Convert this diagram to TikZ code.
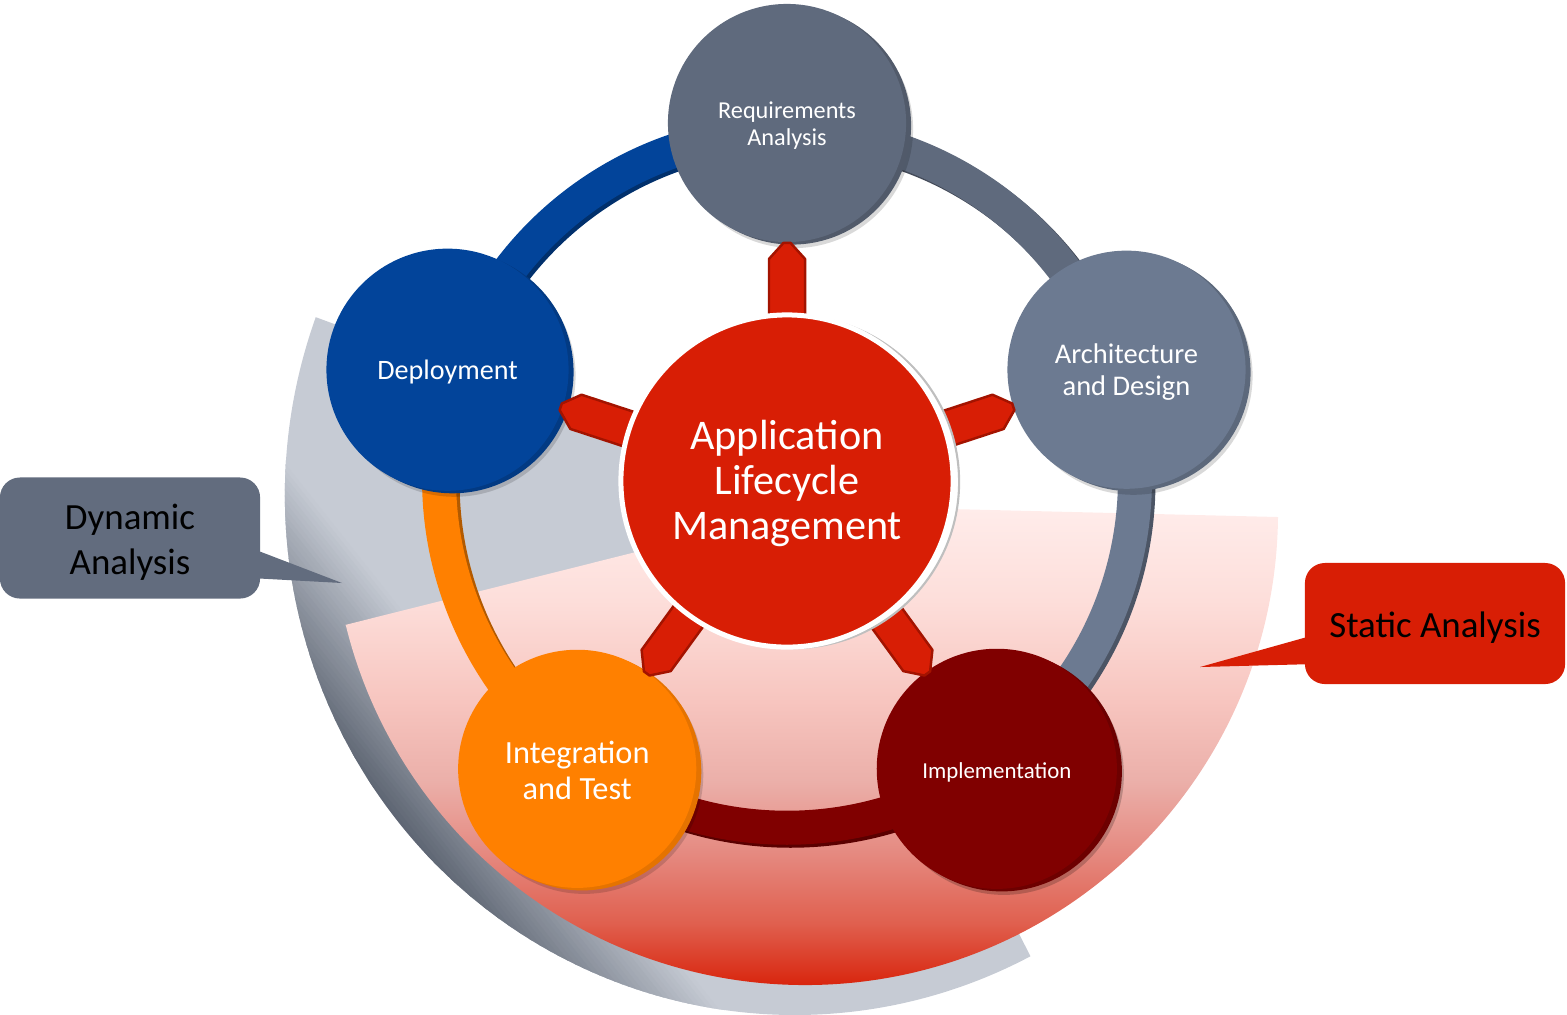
\documentclass[tikz,border=0pt]{standalone}
\usepackage{fontspec}
\setmainfont{Carlito}
\usetikzlibrary{calc,shadows}
\definecolor{almred}{HTML}{D81E05}
\definecolor{spokeedge}{HTML}{A31300}
\definecolor{reqgray}{HTML}{5F6A7D}
\definecolor{archgray}{HTML}{6C7A91}
\definecolor{implred}{HTML}{800000}
\definecolor{integor}{HTML}{FF8000}
\definecolor{deplblue}{HTML}{02449A}
\definecolor{dyngray}{HTML}{626C7E}
\definecolor{rimlight}{HTML}{C6CBD4}
\definecolor{rimdark}{HTML}{4B5361}
\definecolor{pk0}{HTML}{FFECEA}
\definecolor{pk1}{HTML}{FDDEDA}
\definecolor{pk2}{HTML}{F7C5BF}
\definecolor{pk3}{HTML}{EBAFA9}
\definecolor{pk4}{HTML}{E58A81}
\definecolor{pk5}{HTML}{E0604F}
\definecolor{pk6}{HTML}{D8230B}
\pgfdeclareverticalshading{pinkgrad}{100bp}{color(0bp)=(pk6); color(25bp)=(pk6); color(31.8bp)=(pk5); color(39.2bp)=(pk4); color(46.5bp)=(pk3); color(54.9bp)=(pk2); color(65.4bp)=(pk1); color(75bp)=(pk0); color(100bp)=(pk0)}
\pgfdeclarelayer{ground}
\pgfdeclarelayer{bands}
\pgfdeclarelayer{circles}
\pgfdeclarelayer{spokes}
\pgfsetlayers{ground,bands,circles,spokes,main}
\begin{document}
\begin{tikzpicture}[x=0.01cm,y=0.01cm,
  stagenode/.style={circle, minimum size=2.38cm, inner sep=0pt},
  stagetext/.style={text=white, align=center, inner sep=0pt},
  band/.style={line width=0.34cm},
  spoke/.style={fill=almred, draw=spokeedge, line width=0.7pt, line join=round},
  callout/.style={rounded corners=0.2cm, minimum width=2.6cm, minimum height=1.21cm, inner sep=0pt},
  callouttext/.style={align=center, text=black, inner sep=0pt, font=\fontsize{10.5}{12.8}\selectfont, yshift=-0.04cm}]
\useasboundingbox (0,0) rectangle (1567,-1014);

% ---------- background sectors ----------
\begin{pgfonlayer}{ground}
\begin{scope}
\clip (795,-495) -- ++(160:510 and 520) arc[start angle=160,end angle=297.5,x radius=510,y radius=520] -- cycle;
\fill[rimlight] (250,-250) rectangle (1100,-1050);
\foreach \s in {100,104,...,300} {
  \pgfmathtruncatemacro\pc{min(100,(\s-100)/160*100)}
  \fill[rimdark!\pc!rimlight] ({580-0.78*\s+0.62*800},{-668-0.62*\s-0.78*800}) -- ({580-0.78*\s-0.62*800},{-668-0.62*\s+0.78*800}) -- ({580-0.78*(\s+5)-0.62*800},{-668-0.62*(\s+5)+0.78*800}) -- ({580-0.78*(\s+5)+0.62*800},{-668-0.62*(\s+5)-0.78*800}) -- cycle;
}
\end{scope}
\shade[shading=pinkgrad] (345,-625) -- (640,-551) -- (950,-509) -- (1278,-517) arc[start angle=-0.6,end angle=-166.2,radius=473] -- cycle;
\end{pgfonlayer}

% ---------- stage circles ----------
\begin{pgfonlayer}{circles}
\node[stagenode, fill=reqgray, general shadow={shadow xshift=0.07cm, shadow yshift=-0.06cm, fill=black, opacity=0.15}, general shadow={shadow xshift=0.05cm, shadow yshift=-0.025cm, fill=reqgray!85!black},
  label={[stagetext, font=\fontsize{6.9}{7.7}\selectfont, yshift=-0.03cm]center:{Requirements\\Analysis}}] (req) at (787,-123) {};
\node[stagenode, fill=archgray, general shadow={shadow xshift=0.07cm, shadow yshift=-0.06cm, fill=black, opacity=0.15}, general shadow={shadow xshift=0.05cm, shadow yshift=-0.025cm, fill=archgray!85!black},
  label={[stagetext, font=\fontsize{8.1}{9.1}\selectfont, yshift=-0.02cm]center:{Architecture\\and Design}}] (arch) at (1126.5,-369.7) {};
\node[stagenode, minimum size=2.4cm, fill=implred, general shadow={shadow xshift=0.07cm, shadow yshift=-0.06cm, fill=black, opacity=0.2}, general shadow={shadow xshift=0.05cm, shadow yshift=-0.025cm, fill=implred!85!black},
  label={[stagetext, font=\fontsize{6.5}{7.5}\selectfont, yshift=-0.035cm]center:{Implementation}}] (impl) at (996.8,-768.8) {};
\node[stagenode, fill=integor, general shadow={shadow xshift=0.07cm, shadow yshift=-0.06cm, fill=black, opacity=0.15}, general shadow={shadow xshift=0.05cm, shadow yshift=-0.025cm, fill=integor!90!black},
  label={[stagetext, font=\fontsize{9.2}{10.2}\selectfont, yshift=-0.02cm]center:{Integration\\and Test}}] (integ) at (577.2,-768.8) {};
\node[stagenode, minimum size=2.42cm, fill=deplblue, general shadow={shadow xshift=0.07cm, shadow yshift=-0.06cm, fill=black, opacity=0.15}, general shadow={shadow xshift=0.05cm, shadow yshift=-0.025cm, fill=deplblue!85!black},
  label={[stagetext, font=\fontsize{8}{9}\selectfont, yshift=-0.02cm]center:{Deployment}}] (deploy) at (447.5,-369.7) {};
\end{pgfonlayer}

% ---------- central hub ----------
\node[circle, minimum size=3.32cm, inner sep=0pt, fill=almred, draw=white, line width=0.05cm, general shadow={shadow xshift=0.06cm, shadow yshift=-0.01cm, fill=white, draw=black!25, line width=0.6pt},
  label={[stagetext, font=\fontsize{12}{12.8}\selectfont, yshift=-0.02cm]center:{Application\\Lifecycle\\Management}}] (alm) at (787,-481) {};

% ---------- ring bands ----------
\begin{pgfonlayer}{bands}
\foreach \a/\b/\c in {deploy/req/deplblue, req/arch/reqgray, arch/impl/archgray, impl/integ/implred, integ/deploy/integor} {
  \draw[band, draw=\c!70!black] ([xshift=0.035cm,yshift=-0.03cm]$(alm.center)!0.975!(\a.center)$) to[bend left=36, looseness=0.94] ([xshift=0.035cm,yshift=-0.03cm]$(alm.center)!0.975!(\b.center)$);
  \draw[band, draw=\c] ($(alm.center)!0.975!(\a.center)$) to[bend left=36, looseness=0.94] ($(alm.center)!0.975!(\b.center)$);
}
\end{pgfonlayer}

% ---------- spokes ----------
\begin{pgfonlayer}{spokes}
\foreach \n in {req,arch,impl,integ,deploy} {
  \draw[spoke] ($(alm.center)!1.5cm!(\n.center)!0.18cm!90:(\n.center)$) -- ($(alm.center)!2.22cm!(\n.center)!0.18cm!90:(\n.center)$) -- ($(alm.center)!2.38cm!(\n.center)!0.035cm!90:(\n.center)$) -- ($(alm.center)!2.38cm!(\n.center)!0.035cm!-90:(\n.center)$) -- ($(alm.center)!2.22cm!(\n.center)!0.18cm!-90:(\n.center)$) -- ($(alm.center)!1.5cm!(\n.center)!0.18cm!-90:(\n.center)$) -- cycle;
}
\end{pgfonlayer}

% ---------- callouts ----------
\node[callout, fill=dyngray, label={[callouttext]center:{Dynamic\\Analysis}}] (dyn) at (130,-538) {};
\coordinate (dyntip) at (342,-583);
\fill[dyngray] ([xshift=-0.1cm,yshift=-0.1cm]dyn.east) -- (dyntip) -- ([xshift=-0.1cm,yshift=-0.4cm]dyn.east) -- cycle;

\node[callout, fill=almred, label={[callouttext]center:{Static Analysis}}] (stat) at (1435,-623.5) {};
\coordinate (stattip) at (1200,-667);
\fill[almred] ([xshift=0.1cm,yshift=-0.115cm]stat.west) -- (stattip) -- ([xshift=0.1cm,yshift=-0.405cm]stat.west) -- cycle;
\end{tikzpicture}
\end{document}
